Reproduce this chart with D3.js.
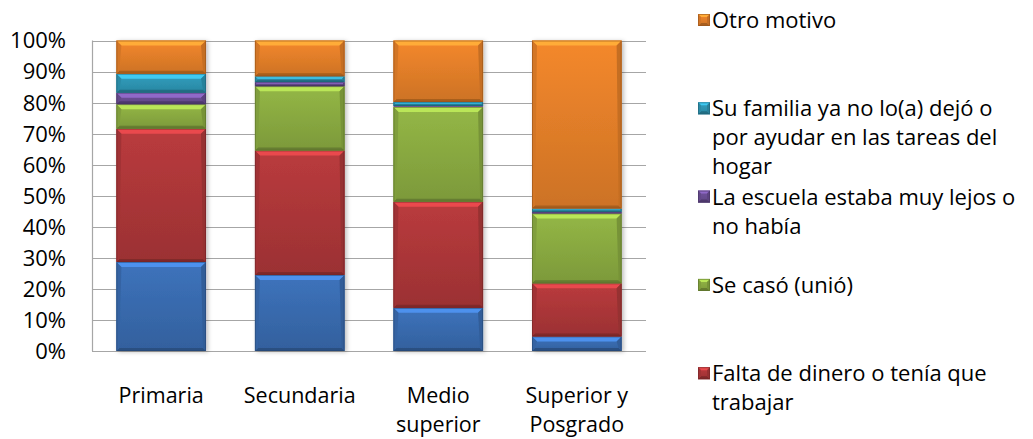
<html>
  <head>
    <meta charset="utf-8">
    <script src="https://cdn.jsdelivr.net/npm/d3@7"></script>
    <style>
      body { margin: 0; background: #fff; }
      svg { display: block; font-family: "Open Sans", sans-serif; }
    </style>
  </head>
  <body>
    <script>
      const width = 1033, height = 439;

      // categories (x axis), two lines each
      const categories = ["Primaria", "Secundaria", "Medio superior", "Superior y Posgrado"];
      const categoryLines = [["Primaria"], ["Secundaria"], ["Medio", "superior"], ["Superior y", "Posgrado"]];

      // series, bottom to top of the stack
      const seriesNames = [
        "No quiso o no le gustó estudiar",
        "Falta de dinero o tenía que trabajar",
        "Se casó (unió)",
        "La escuela estaba muy lejos o no había",
        "Su familia ya no lo(a) dejó o por ayudar en las tareas del hogar",
        "Otro motivo"
      ];
      const seriesColors = ["#3a6db2", "#b0383a", "#8cad42", "#6c4f96", "#2f98b6", "#e7812a"];

      // values in % per category (Primaria, Secundaria, Medio superior, Superior y Posgrado)
      const noQuiso   = [28.7, 24.5, 13.9, 4.7];
      const falta     = [42.9, 40.1, 34.2, 17.1];
      const seCaso    = [7.9, 20.7, 30.5, 22.5];
      const lejos     = [3.7, 1.3, 0.3, 0.5];
      const familia   = [6.1, 1.9, 1.3, 1.1];
      const otro      = [10.7, 11.5, 19.8, 54.1];
      const seriesValues = [noQuiso, falta, seCaso, lejos, familia, otro];

      const yTicks = [0, 10, 20, 30, 40, 50, 60, 70, 80, 90, 100];

      // legend lines, top to bottom (the last entry falls below the visible area)
      const legendLines = [
        ["Otro motivo"],
        ["Su familia ya no lo(a) dejó o", "por ayudar en las tareas del", "hogar"],
        ["La escuela estaba muy lejos o", "no había"],
        ["Se casó (unió)"],
        ["Falta de dinero o tenía que", "trabajar"]
      ];

      const rows = categories.map((c, i) => {
        const r = { cat: c };
        seriesNames.forEach((s, j) => r[s] = seriesValues[j][i]);
        return r;
      });
      const stacked = d3.stack().keys(seriesNames)(rows);

      const x = d3.scaleBand().domain(categories).range([92, 646])
          .paddingInner(0.353).paddingOuter(0.176);
      const y = d3.scaleLinear().domain([0, 100]).range([351, 40.5]);

      const svg = d3.select("body").append("svg")
          .attr("width", width).attr("height", height);

      const defs = svg.append("defs");
      defs.append("filter").attr("id", "shadow")
          .attr("x", "-10%").attr("y", "-10%").attr("width", "130%").attr("height", "130%")
        .append("feDropShadow")
          .attr("dx", 2).attr("dy", 1).attr("stdDeviation", 2)
          .attr("flood-color", "#000").attr("flood-opacity", 0.25);

      seriesColors.forEach((c, i) => {
        const g = defs.append("linearGradient").attr("id", "grad" + i)
            .attr("x1", 0).attr("x2", 0).attr("y1", 0).attr("y2", 1);
        g.append("stop").attr("offset", "0%").attr("stop-color", d3.color(c).brighter(0.15));
        g.append("stop").attr("offset", "100%").attr("stop-color", d3.color(c).darker(0.35));
      });

      // gridlines
      svg.append("g").selectAll("line").data(yTicks).join("line")
          .attr("x1", 92).attr("x2", 646)
          .attr("y1", d => Math.round(y(d)) + 0.5).attr("y2", d => Math.round(y(d)) + 0.5)
          .attr("stroke", "#a6a6a6").attr("stroke-width", 1.2);
      svg.append("line")
          .attr("x1", 92.5).attr("x2", 92.5).attr("y1", y(100)).attr("y2", y(0))
          .attr("stroke", "#a6a6a6").attr("stroke-width", 1.2);

      // y tick labels
      svg.append("g").selectAll("text").data(yTicks).join("text")
          .attr("x", 66).attr("y", d => y(d))
          .attr("dy", "0.36em")
          .attr("text-anchor", "end")
          .attr("font-size", 22).attr("fill", "#000")
          .text(d => d + "%");

      // beveled block
      function bevelBlock(g, x0, y0, w, h, i, bmax) {
        const c = seriesColors[i];
        const b = Math.max(0, Math.min(bmax, h / 2 - 0.5, w / 2));
        const x1 = x0 + w, y1 = y0 + h;
        g.append("rect").attr("x", x0).attr("y", y0).attr("width", w).attr("height", h)
            .attr("fill", `url(#grad${i})`);
        if (b <= 0) return;
        const poly = (pts, fill) => g.append("polygon")
            .attr("points", pts.map(p => p.join(",")).join(" ")).attr("fill", fill);
        const bb = Math.min(b, 3);
        poly([[x0, y0], [x1, y0], [x1 - b, y0 + b], [x0 + b, y0 + b]], d3.color(c).brighter(0.8));
        poly([[x0, y1], [x1, y1], [x1 - bb, y1 - bb], [x0 + bb, y1 - bb]], d3.color(c).darker(0.9));
        poly([[x0, y0], [x0 + b, y0 + b], [x0 + bb, y1 - bb], [x0, y1]], d3.color(c).darker(0.25));
        poly([[x1, y0], [x1 - b, y0 + b], [x1 - bb, y1 - bb], [x1, y1]], d3.color(c).darker(0.45));
        g.append("rect").attr("x", x0 + 0.5).attr("y", y0 + 0.5)
            .attr("width", w - 1).attr("height", Math.max(0, h - 1))
            .attr("fill", "none").attr("stroke", d3.color(c).darker(1.2))
            .attr("stroke-opacity", 0.6).attr("stroke-width", 1);
      }

      // bars
      const barsG = svg.append("g").attr("filter", "url(#shadow)");
      stacked.forEach((layer, i) => {
        layer.forEach((d, k) => {
          const x0 = x(categories[k]);
          const yTop = y(d[1]), yBot = y(d[0]);
          bevelBlock(barsG.append("g"), x0, yTop, x.bandwidth(), yBot - yTop, i, 5);
        });
      });

      // x labels
      const xl = svg.append("g").selectAll("text").data(categories).join("text")
          .attr("x", d => x(d) + x.bandwidth() / 2)
          .attr("y", 395)
          .attr("text-anchor", "middle")
          .attr("font-size", 21.5).attr("fill", "#000");
      xl.each(function(d, i) {
        d3.select(this).selectAll("tspan").data(categoryLines[i]).join("tspan")
            .attr("x", x(d) + x.bandwidth() / 2)
            .attr("y", (t, j) => 395 + j * 29.5)
            .attr("dy", "0.36em")
            .text(t => t);
      });

      // legend
      const legendY = d3.scaleLinear().domain([0, 1]).range([20, 108.3]);
      const leg = svg.append("g").selectAll("g").data(legendLines).join("g")
          .attr("transform", (d, i) => `translate(0,${legendY(i)})`);
      leg.each(function(lines, i) {
        const si = seriesNames.length - 1 - i;
        bevelBlock(d3.select(this).append("g"), 698, -6, 12, 12, si, 3);
        d3.select(this).append("text")
            .attr("font-size", 22).attr("fill", "#000")
          .selectAll("tspan").data(lines).join("tspan")
            .attr("x", 712)
            .attr("y", (t, j) => j * 29)
            .attr("dy", "0.36em")
            .text(t => t);
      });
    </script>
  </body>
</html>
